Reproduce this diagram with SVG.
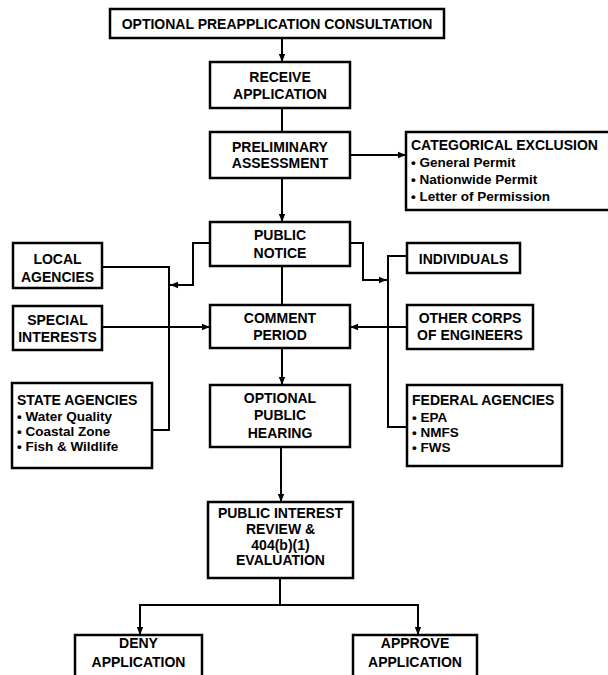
<svg xmlns="http://www.w3.org/2000/svg" width="608" height="675" viewBox="0 0 608 675">
<style>
.box{fill:#fff;stroke:#000;stroke-width:2.5}
.ln{fill:none;stroke:#000;stroke-width:2}
.t{font-family:"Liberation Sans",Arial,sans-serif;font-weight:bold;font-size:14px;fill:#000;text-anchor:middle}
.l{font-family:"Liberation Sans",Arial,sans-serif;font-weight:bold;font-size:14px;fill:#000}
.s{font-family:"Liberation Sans",Arial,sans-serif;font-weight:bold;font-size:13.5px;fill:#000}
</style>
<defs>
<marker id="ah" markerUnits="userSpaceOnUse" markerWidth="8" markerHeight="8" viewBox="0 0 8 8" refX="8" refY="4" orient="auto">
<path d="M0,0.8 L8,4 L0,7.2 Z" fill="#000"/>
</marker>
</defs>
<rect width="608" height="675" fill="#fff"/>
<g id="connectors">
<line class="ln" x1="282" y1="38" x2="282" y2="62" marker-end="url(#ah)"/>
<line class="ln" x1="282" y1="108" x2="282" y2="132"/>
<line class="ln" x1="282" y1="178" x2="282" y2="222" marker-end="url(#ah)"/>
<line class="ln" x1="350" y1="155" x2="406" y2="155" marker-end="url(#ah)"/>
<line class="ln" x1="282" y1="266" x2="282" y2="305"/>
<line class="ln" x1="282" y1="348" x2="282" y2="385" marker-end="url(#ah)"/>
<line class="ln" x1="281" y1="447" x2="281" y2="502" marker-end="url(#ah)"/>
<line class="ln" x1="280" y1="578" x2="280" y2="605"/>
<polyline class="ln" points="140,635 140,605 418,605 418,635"/>
<line class="ln" x1="140" y1="610" x2="140" y2="635" marker-end="url(#ah)"/>
<line class="ln" x1="418" y1="610" x2="418" y2="635" marker-end="url(#ah)"/>
<polyline class="ln" points="102,267 169,267 169,430 152,430"/>
<line class="ln" x1="102" y1="327" x2="210" y2="327" marker-end="url(#ah)"/>
<polyline class="ln" points="210,243 193,243 193,285 170,285" marker-end="url(#ah)"/>
<polyline class="ln" points="407,256 388,256 388,427 407,427"/>
<polyline class="ln" points="350,243 363,243 363,280 387,280" marker-end="url(#ah)"/>
<line class="ln" x1="407" y1="327" x2="350" y2="327" marker-end="url(#ah)"/>
</g>
<g id="preapp">
<rect class="box" x="110" y="9" width="334" height="29"/>
<text class="t" x="277" y="29">OPTIONAL PREAPPLICATION CONSULTATION</text>
</g>
<g id="receive">
<rect class="box" x="210" y="62" width="140" height="46"/>
<text class="t" x="280" y="82">RECEIVE</text>
<text class="t" x="280" y="99">APPLICATION</text>
</g>
<g id="prelim">
<rect class="box" x="210" y="132" width="140" height="46"/>
<text class="t" x="280" y="152">PRELIMINARY</text>
<text class="t" x="280" y="168">ASSESSMENT</text>
</g>
<g id="categorical">
<rect class="box" x="406" y="132" width="210" height="78"/>
<text class="l" x="411" y="150">CATEGORICAL EXCLUSION</text>
<text class="s" x="411" y="167">• General Permit</text>
<text class="s" x="411" y="184">• Nationwide Permit</text>
<text class="s" x="411" y="201">• Letter of Permission</text>
</g>
<g id="notice">
<rect class="box" x="210" y="222" width="140" height="44"/>
<text class="t" x="280" y="240">PUBLIC</text>
<text class="t" x="280" y="258">NOTICE</text>
</g>
<g id="local">
<rect class="box" x="13" y="243" width="89" height="45"/>
<text class="t" x="57.5" y="264">LOCAL</text>
<text class="t" x="57.5" y="282">AGENCIES</text>
</g>
<g id="individuals">
<rect class="box" x="407" y="243" width="113" height="30"/>
<text class="t" x="463.5" y="264">INDIVIDUALS</text>
</g>
<g id="comment">
<rect class="box" x="210" y="305" width="140" height="43"/>
<text class="t" x="280" y="323">COMMENT</text>
<text class="t" x="280" y="340">PERIOD</text>
</g>
<g id="special">
<rect class="box" x="13" y="306" width="89" height="44"/>
<text class="t" x="57.5" y="325">SPECIAL</text>
<text class="t" x="57.5" y="342">INTERESTS</text>
</g>
<g id="othercorps">
<rect class="box" x="407" y="305" width="126" height="44"/>
<text class="t" x="470" y="323">OTHER CORPS</text>
<text class="t" x="470" y="340">OF ENGINEERS</text>
</g>
<g id="hearing">
<rect class="box" x="210" y="385" width="140" height="62"/>
<text class="t" x="280" y="403">OPTIONAL</text>
<text class="t" x="280" y="420">PUBLIC</text>
<text class="t" x="280" y="438">HEARING</text>
</g>
<g id="state">
<rect class="box" x="12" y="383" width="140" height="85"/>
<text class="l" x="17" y="405">STATE AGENCIES</text>
<text class="s" x="17" y="421">• Water Quality</text>
<text class="s" x="17" y="436">• Coastal Zone</text>
<text class="s" x="17" y="451">• Fish &amp; Wildlife</text>
</g>
<g id="federal">
<rect class="box" x="407" y="385" width="155" height="81"/>
<text class="l" x="412" y="405">FEDERAL AGENCIES</text>
<text class="s" x="412" y="422">• EPA</text>
<text class="s" x="412" y="437">• NMFS</text>
<text class="s" x="412" y="452">• FWS</text>
</g>
<g id="review">
<rect class="box" x="208" y="502" width="145" height="76"/>
<text class="t" x="280.5" y="518">PUBLIC INTEREST</text>
<text class="t" x="280.5" y="534">REVIEW &amp;</text>
<text class="t" x="280.5" y="550">404(b)(1)</text>
<text class="t" x="280.5" y="565">EVALUATION</text>
</g>
<g id="deny">
<rect class="box" x="75" y="635" width="127" height="50"/>
<text class="t" x="138.5" y="648">DENY</text>
<text class="t" x="138.5" y="667">APPLICATION</text>
</g>
<g id="approve">
<rect class="box" x="353" y="635" width="124" height="50"/>
<text class="t" x="415" y="648">APPROVE</text>
<text class="t" x="415" y="667">APPLICATION</text>
</g>
</svg>
